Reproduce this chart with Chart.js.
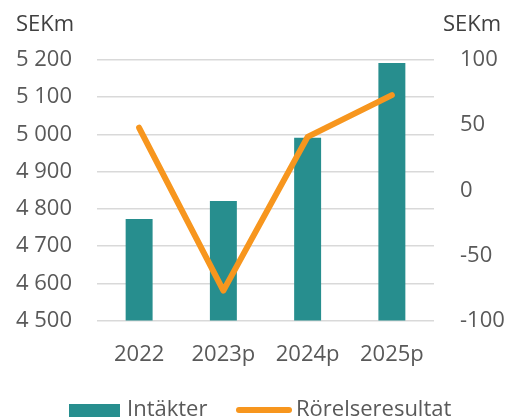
<!DOCTYPE html>
<html>
<head>
<meta charset="utf-8">
<script src="https://cdn.jsdelivr.net/npm/chart.js@4/dist/chart.umd.min.js"></script>
<style>
  html, body { margin: 0; padding: 0; background: #fff; }
  #wrap { position: relative; width: 511px; height: 417px; overflow: hidden; }
  #chart { position: absolute; left: 0; top: 0; }
  .legend { position: absolute; left: 0; top: 392px; width: 511px; height: 30px;
    font-family: 'Open Sans', sans-serif; font-size: 22px; color: #595959; }
  .legend .item { position: absolute; top: 0; display: flex; align-items: center; height: 30px; }
  .legend .box { width: 51px; height: 14px; background: #278E8E; margin-right: 7px; margin-top: 8px; }
  .legend .ln { width: 56px; height: 6px; border-radius: 3px; background: #F7961E; margin-right: 4px; margin-top: 6px; }
</style>
</head>
<body>
<div id="wrap">
  <canvas id="chart" width="511" height="417"></canvas>
  <div class="legend">
    <div class="item" style="left:69px"><span class="box"></span><span>Intäkter</span></div>
    <div class="item" style="left:236px"><span class="ln"></span><span>Rörelseresultat</span></div>
  </div>
</div>
<script>
const categories = ['2022', '2023p', '2024p', '2025p'];
const revenue = [4773, 4821, 4991, 5192];
const operatingResult = [48, -77, 41, 73];
const leftTicks = [4500, 4600, 4700, 4800, 4900, 5000, 5100, 5200];
const rightTicks = [-100, -50, 0, 50, 100];

const FONT = "'Open Sans', sans-serif";
const GREY = '#595959';

function fmtThousands(v) {
  const s = String(Math.round(v));
  return s.replace(/\B(?=(\d{3})+(?!\d))/g, ' ');
}

const unitTitles = {
  id: 'unitTitles',
  afterDraw(chart) {
    const c = chart.ctx;
    c.save();
    c.font = `22px ${FONT}`;
    c.fillStyle = '#404040';
    c.textBaseline = 'middle';
    c.textAlign = 'left';
    c.fillText('SEKm', 16, 25);
    c.fillText('SEKm', 443, 25);
    c.restore();
  },
};

new Chart(document.getElementById('chart'), {
  data: {
    labels: categories,
    datasets: [
      {
        type: 'line',
        label: 'Rörelseresultat',
        data: operatingResult,
        yAxisID: 'y1',
        borderColor: '#F7961E',
        borderWidth: 6,
        pointRadius: 0,
        borderJoinStyle: 'round',
        borderCapStyle: 'round',
        tension: 0,
        order: 0,
      },
      {
        type: 'bar',
        label: 'Intäkter',
        data: revenue,
        yAxisID: 'y',
        backgroundColor: '#278E8E',
        barPercentage: 0.64,
        categoryPercentage: 0.5,
        order: 1,
      },
    ],
  },
  options: {
    responsive: false,
    animation: false,
    layout: { padding: { top: 60, bottom: 36, left: 0, right: 0 } },
    plugins: { legend: { display: false }, tooltip: { enabled: false } },
    scales: {
      x: {
        grid: { display: false },
        border: { display: false },
        ticks: { color: GREY, font: { family: FONT, size: 22 }, padding: 13, maxRotation: 0 },
      },
      y: {
        position: 'left',
        min: 4500,
        max: 5200,
        afterBuildTicks: (axis) => { axis.ticks = leftTicks.map((v) => ({ value: v })); },
        afterFit: (axis) => { axis.width = 97; },
        grid: { color: '#D9D9D9', lineWidth: 1.5, drawTicks: false },
        border: { display: false },
        ticks: { color: GREY, font: { family: FONT, size: 22 }, padding: 25, callback: (v) => fmtThousands(v) },
      },
      y1: {
        position: 'right',
        min: -100,
        max: 100,
        afterBuildTicks: (axis) => { axis.ticks = rightTicks.map((v) => ({ value: v })); },
        afterFit: (axis) => { axis.width = 77; },
        grid: { display: false, drawTicks: false },
        border: { display: false },
        ticks: { color: GREY, font: { family: FONT, size: 22 }, padding: 26, crossAlign: 'near',
          callback: (v) => String(v) },
      },
    },
  },
  plugins: [unitTitles],
});
</script>
</body>
</html>
